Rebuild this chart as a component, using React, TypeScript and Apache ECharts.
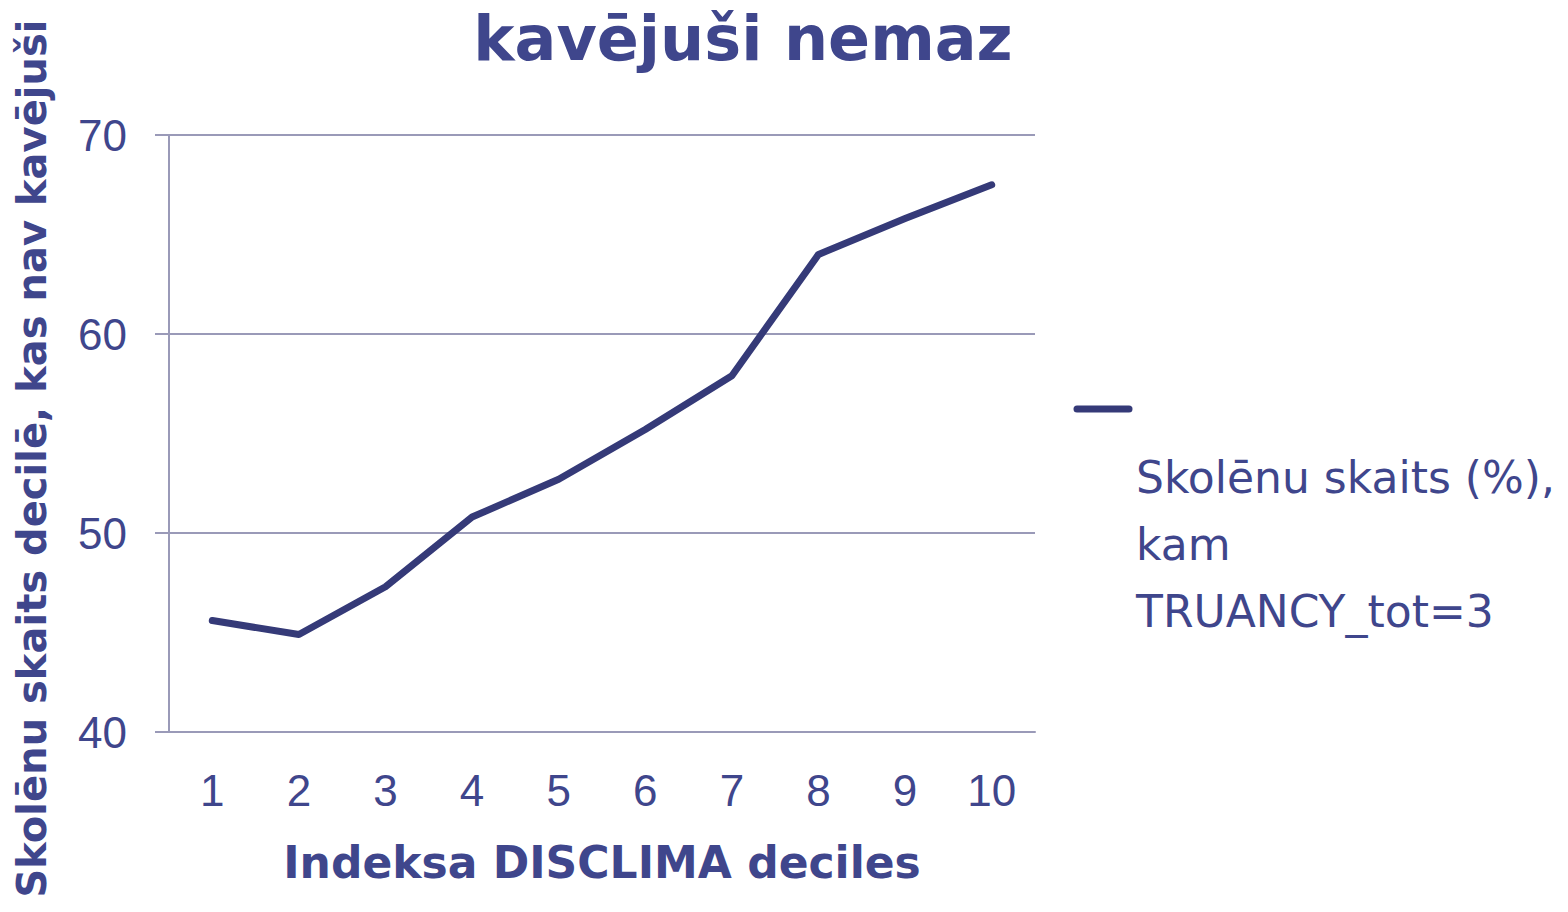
import React, { useEffect, useRef } from "react";
import * as echarts from "echarts";

const categories = ["1", "2", "3", "4", "5", "6", "7", "8", "9", "10"];
const seriesName = "Skolēnu skaits (%), kam TRUANCY_tot=3";
const values = [45.6, 44.9, 47.3, 50.8, 52.7, 55.2, 57.9, 64.0, 65.8, 67.5];
const titleText = "kavējuši nemaz";
const xAxisName = "Indeksa DISCLIMA deciles";
const yAxisName = "Skolēnu skaits decilē, kas nav kavējuši";
const legendLines = ["Skolēnu skaits (%),", "kam", "TRUANCY_tot=3"];

const TEXT = "#3f468c";
const LINE = "#353a78";
const GRID = "#9a9ab8";
const COMIC = "'Comic Sans MS', 'DejaVu Sans', sans-serif";
const ARIAL = "'Liberation Sans', Arial, sans-serif";

export default function App() {
  const ref = useRef<HTMLDivElement>(null);
  useEffect(() => {
    if (!ref.current) return;
    const chart = echarts.init(ref.current, undefined, { renderer: "svg" });
    chart.setOption({
      animation: false,
      backgroundColor: "#ffffff",
      grid: { left: 169, right: 533, top: 135, bottom: 180, containLabel: false },
      xAxis: {
        type: "category",
        data: categories,
        boundaryGap: true,
        axisLine: { show: true, lineStyle: { color: GRID, width: 2 } },
        axisTick: { show: false },
        axisLabel: { color: TEXT, fontFamily: ARIAL, fontSize: 44, margin: 36 },
        name: xAxisName,
        nameLocation: "middle",
        nameGap: 108,
        nameTextStyle: { color: TEXT, fontFamily: COMIC, fontWeight: "bold", fontSize: 44 },
      },
      yAxis: {
        type: "value",
        min: 40,
        max: 70,
        interval: 10,
        axisLine: { show: true, lineStyle: { color: GRID, width: 2 } },
        axisTick: { show: true, length: 14, lineStyle: { color: GRID, width: 2 } },
        splitLine: { show: true, lineStyle: { color: GRID, width: 2 } },
        axisLabel: { color: TEXT, fontFamily: ARIAL, fontSize: 44, margin: 42 },
        name: yAxisName,
        nameLocation: "middle",
        nameRotate: 90,
        nameGap: 117,
        nameTextStyle: {
          color: TEXT,
          fontFamily: COMIC,
          fontWeight: "bold",
          fontSize: 40,
          padding: [0, 50, 0, 0],
        },
      },
      series: [
        {
          name: seriesName,
          type: "line",
          data: values,
          symbol: "none",
          lineStyle: { color: LINE, width: 7, cap: "round", join: "round" },
        },
      ],
      graphic: [
        {
          type: "text",
          x: 743,
          y: 38,
          style: {
            text: titleText,
            fill: TEXT,
            font: `bold 62px ${COMIC}`,
            align: "center",
            verticalAlign: "middle",
          },
        },
        {
          type: "line",
          shape: { x1: 1077, y1: 409, x2: 1129, y2: 409 },
          style: { stroke: LINE, lineWidth: 7, lineCap: "round" },
        },
        ...legendLines.map((t, i) => ({
          type: "text",
          x: 1136,
          y: 477 + i * 67,
          style: {
            text: t,
            fill: TEXT,
            font: `44px ${COMIC}`,
            align: "left",
            verticalAlign: "middle",
          },
        })),
      ],
    });
    return () => chart.dispose();
  }, []);
  return (
    <div
      ref={ref}
      style={{ position: "fixed", left: 0, top: 0, width: 1568, height: 912 }}
    />
  );
}
